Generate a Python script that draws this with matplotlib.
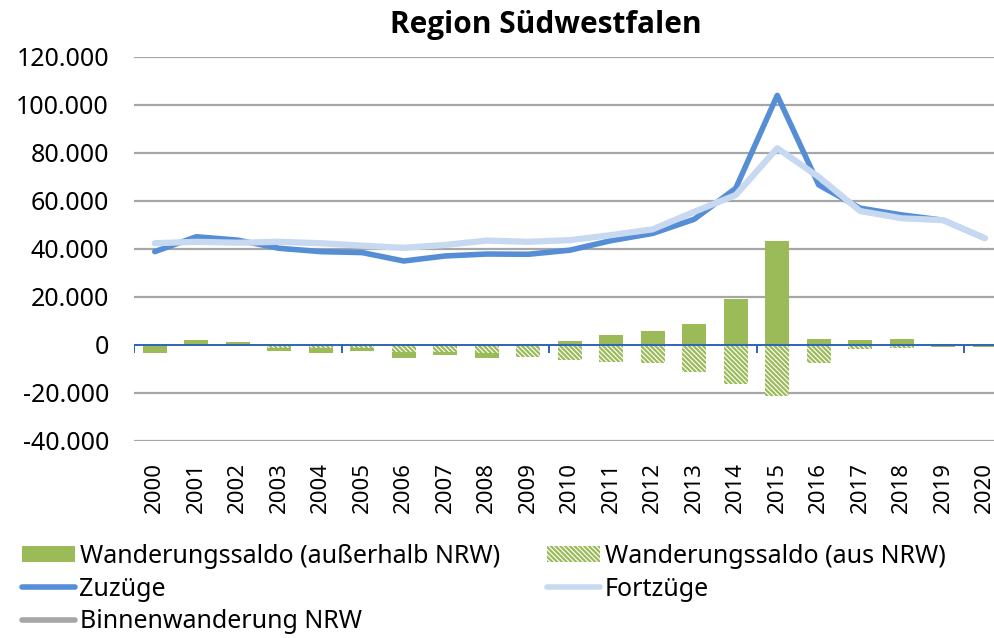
import numpy as np
import matplotlib
matplotlib.use("Agg")
import matplotlib.pyplot as plt
from matplotlib.patches import Patch
from matplotlib.lines import Line2D
from matplotlib.ticker import FuncFormatter

years = [str(y) for y in range(2000, 2021)]
saldo_ausserhalb = [-3200, 2000, 1200, -1500, -2000, -1400, -2500, -1200, -2000, -300,
                    1600, 4200, 5700, 8600, 19300, 43300, 2500, 2200, 2600, -900, -900]
saldo_aus_nrw = [0, 0, 0, -1200, -1200, -1200, -3000, -2800, -3500, -4900,
                 -6100, -7100, -7700, -11200, -16200, -21400, -7400, -1700, -1300, 0, 0]
zuzuege = [38900, 45100, 43700, 40300, 38900, 38500, 35000, 37100, 37900, 37800,
           39500, 43500, 46500, 52400, 65300, 104000, 66700, 57000, 54200, 52000, 44500]
fortzuege = [42400, 43000, 42600, 43000, 42400, 41400, 40500, 41700, 43500, 43000,
             43700, 45800, 48200, 55500, 62500, 82000, 70000, 55800, 52800, 52000, 44500]
y_ticks = [-40000, -20000, 0, 20000, 40000, 60000, 80000, 100000, 120000]

plt.rcParams['font.family'] = ['Noto Sans', 'DejaVu Sans']
plt.rcParams['hatch.linewidth'] = 1.6

GREEN = '#9BBB59'
DARK = '#558ED5'
LIGHT = '#C6D9F1'
GRID = '#A6A6A6'
AXIS = '#2E64B4'
HATCH = '\\' * 7

fig = plt.figure(figsize=(9.94, 6.38), dpi=100)
ax = fig.add_axes([134/994, 1-441/638, (1005.5-134)/994, (441-57)/638])

x = np.arange(len(years))
a = np.array(saldo_ausserhalb)
b = np.array(saldo_aus_nrw)
w = 0.58

for yv in y_ticks:
    if yv != 0:
        ax.axhline(yv, color=GRID, lw=1.6, zorder=0)

ax.bar(x, b, width=w, color='white', edgecolor=GREEN, hatch=HATCH, linewidth=0, zorder=2)
ax.bar(x, a, width=w, bottom=np.where(a < 0, b, 0), color=GREEN, linewidth=0, zorder=2)

ax.axhline(0, color=AXIS, lw=1.4, zorder=3)
bounds = np.arange(-0.5, len(years), 5)
ax.vlines(bounds, -3300, 0, color=AXIS, lw=1.4, zorder=3)

ax.plot(x, zuzuege, color=DARK, lw=4.0, solid_capstyle='round', solid_joinstyle='round', zorder=4)
ax.plot(x, fortzuege, color=LIGHT, lw=4.5, solid_capstyle='round', solid_joinstyle='round', zorder=5)

ax.set_xlim(-0.5, len(years) - 0.5)
ax.set_ylim(-40000, 120000)
ax.set_yticks(y_ticks)
ax.yaxis.set_major_formatter(FuncFormatter(lambda v, p: f"{int(v):,}".replace(",", ".")))
ax.set_xticks(x)
ax.set_xticklabels(years, rotation=90, fontsize=16)
ax.tick_params(axis='y', length=0, pad=18, labelsize=18)
ax.tick_params(axis='x', length=0, pad=15)
for s in ax.spines.values():
    s.set_visible(False)

fig.text(546/994, 1-25/638, 'Region Südwestfalen', ha='center', va='center',
         fontsize=21.5, fontweight='bold', family=['Open Sans', 'DejaVu Sans'])

handles = [
    Patch(facecolor=GREEN, edgecolor='none'),
    Line2D([], [], color=DARK, lw=4, solid_capstyle='round'),
    Line2D([], [], color='#A6A6A6', lw=4, solid_capstyle='round'),
    Patch(facecolor='white', edgecolor=GREEN, hatch=HATCH, linewidth=0),
    Line2D([], [], color=LIGHT, lw=4, solid_capstyle='round'),
]
labels = ['Wanderungssaldo (außerhalb NRW)', 'Zuzüge', 'Binnenwanderung NRW',
          'Wanderungssaldo (aus NRW)', 'Fortzüge']
fig.legend(handles, labels, ncol=2, loc='upper left', bbox_to_anchor=(22/994, 1-544/638),
           frameon=False, fontsize=18, borderpad=0, borderaxespad=0, handlelength=2.1,
           handletextpad=0.2, columnspacing=1.9, labelspacing=0.3, handleheight=0.6)

fig.savefig('out.png', dpi=100)
